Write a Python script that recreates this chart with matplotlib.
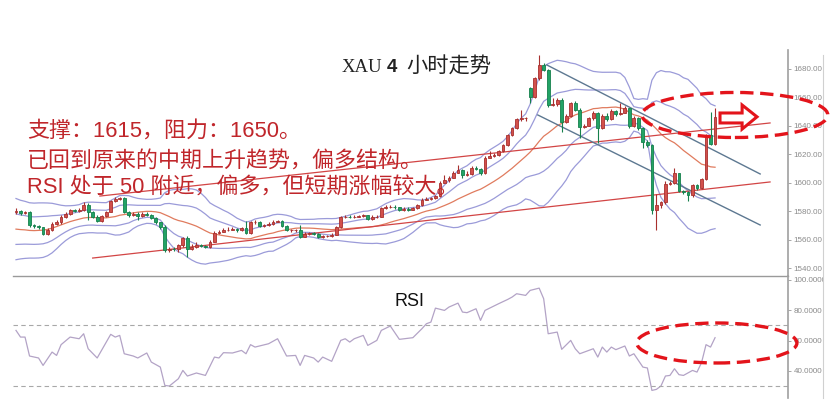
import numpy as np
import pandas as pd
import matplotlib
matplotlib.use("Agg")
import matplotlib.pyplot as plt
from matplotlib.patches import Ellipse, Polygon, Rectangle
from matplotlib.lines import Line2D

plt.rcParams['font.family'] = ['Liberation Sans', 'Noto Sans CJK SC', 'DejaVu Sans']

# ==========================================
# DATA (4h XAU bars)
# ==========================================
opens = [
    1579, 1580, 1578.5, 1579, 1570, 1569.5, 1568.5, 1564, 1567, 1571,
    1572.5, 1576, 1578, 1580.5, 1580, 1581, 1584.5, 1579, 1576, 1573,
    1576.5, 1579.5, 1587, 1588.5, 1589, 1579.5, 1577.5, 1578, 1576.5, 1578,
    1577.5, 1575, 1572, 1568.5, 1552.5, 1553.5, 1553, 1556, 1561, 1553.5,
    1555, 1556, 1555.5, 1555, 1558.5, 1564.5, 1565.5, 1567, 1567, 1567.5,
    1566.5, 1568, 1564.5, 1572, 1572.5, 1569.5, 1570, 1571, 1572.5, 1573,
    1569.5, 1566.5, 1566.5, 1566.5, 1562, 1564, 1564.5, 1564, 1561.5, 1562.5,
    1562.5, 1563.5, 1568.5, 1575.5, 1576, 1575.5, 1576, 1576.5, 1577, 1574.5,
    1576, 1576, 1582, 1583, 1583, 1582.5, 1580.5, 1581.5, 1581, 1582,
    1584, 1588, 1588.5, 1589, 1590.5, 1600, 1601.5, 1603.5, 1607, 1609,
    1605, 1606, 1610.5, 1609.5, 1606.5, 1617.5, 1618.5, 1619, 1622, 1626,
    1633, 1638, 1644.5, 1645, 1666, 1660, 1673, 1682.5, 1679, 1654.5,
    1655, 1658, 1642.5, 1647, 1655.5, 1651, 1639, 1640, 1645, 1649,
    1638, 1647, 1644.5, 1650.5, 1648, 1649, 1652, 1639.5, 1645.5, 1638.5,
    1628.5, 1626, 1581, 1584, 1586, 1599, 1599.5, 1606.5, 1594, 1593,
    1591, 1598, 1596, 1602.5, 1633, 1627,
]
closes = [
    1580, 1578.5, 1579, 1570, 1569.5, 1568.5, 1564, 1567, 1571, 1572.5,
    1576, 1578, 1580.5, 1580, 1581, 1584.5, 1579, 1576, 1573, 1576.5,
    1579.5, 1587, 1588.5, 1589, 1579.5, 1577.5, 1578, 1576.5, 1578, 1577.5,
    1575, 1572, 1568.5, 1552.5, 1553.5, 1553, 1556, 1561, 1553.5, 1555,
    1556, 1555.5, 1555, 1558.5, 1564.5, 1565.5, 1567, 1567, 1567.5, 1566.5,
    1568, 1564.5, 1572, 1572.5, 1569.5, 1570, 1571, 1572.5, 1573, 1569.5,
    1566.5, 1566.5, 1566.5, 1562, 1564, 1564.5, 1564, 1561.5, 1562.5, 1562.5,
    1563.5, 1568.5, 1575.5, 1576, 1575.5, 1576, 1576.5, 1577, 1574.5, 1576,
    1576, 1582, 1583, 1583, 1582.5, 1580.5, 1581.5, 1581, 1582, 1584,
    1588, 1588.5, 1589, 1590.5, 1600, 1601.5, 1603.5, 1607, 1609, 1605,
    1606, 1610.5, 1609.5, 1606.5, 1617.5, 1618.5, 1619, 1622, 1626, 1633,
    1638, 1644.5, 1645, 1645, 1660, 1673, 1682.5, 1679, 1654.5, 1655,
    1658, 1642.5, 1647, 1655.5, 1651, 1639, 1640, 1645, 1649, 1638,
    1647, 1644.5, 1650.5, 1648, 1649, 1652, 1639.5, 1645.5, 1638.5, 1628.5,
    1626, 1581, 1584, 1586, 1599, 1599.5, 1606.5, 1594, 1593, 1591,
    1598, 1596, 1602.5, 1633, 1627, 1646,
]
highs = [
    1582, 1580.5, 1580, 1580, 1571, 1570, 1569, 1568, 1572, 1574,
    1577, 1579, 1581.5, 1581.5, 1582, 1586, 1585.5, 1580, 1577, 1577,
    1580, 1588, 1589.5, 1590, 1590, 1580, 1579, 1579, 1579, 1579,
    1578, 1575.5, 1572.5, 1570, 1555, 1554.5, 1557, 1562, 1562.5, 1557,
    1558, 1557, 1556.5, 1559.5, 1566, 1567, 1568, 1568.5, 1568.5, 1568,
    1569, 1573, 1573, 1573.5, 1573, 1571, 1572, 1573.5, 1574, 1573.5,
    1570, 1567.5, 1567.5, 1570.5, 1565, 1565.5, 1565, 1564.5, 1563.5, 1563.5,
    1564.5, 1569.5, 1576.5, 1577, 1577, 1577, 1577.5, 1578, 1577.5, 1577,
    1577, 1583, 1584, 1584, 1584, 1583, 1582.5, 1582.5, 1583, 1585,
    1589, 1589.5, 1590, 1591.5, 1601, 1605.5, 1604.5, 1608, 1612, 1609.5,
    1608, 1611.5, 1611.5, 1610, 1618.5, 1622, 1621, 1623, 1627, 1634,
    1639, 1645.5, 1651, 1646, 1667, 1674, 1689.5, 1684, 1680, 1659,
    1659.5, 1659, 1648, 1656.5, 1657, 1652, 1641, 1646, 1650, 1649.5,
    1648, 1648.5, 1651.5, 1651, 1655.5, 1653.5, 1652.5, 1646.5, 1646, 1639,
    1629.5, 1627, 1592, 1587, 1601, 1601, 1610, 1607, 1595, 1594,
    1599, 1599, 1603.5, 1634, 1649.5, 1652,
]
lows = [
    1578, 1577.5, 1578, 1569, 1568, 1567.5, 1563, 1563, 1566, 1570,
    1571, 1575, 1577, 1579, 1579, 1580, 1574, 1575, 1572, 1572.5,
    1576, 1579, 1586, 1587.5, 1578.5, 1576, 1576.5, 1574, 1576, 1576.5,
    1574.5, 1571, 1567.5, 1551.5, 1551, 1552, 1551.5, 1555, 1547.5, 1552.5,
    1554, 1554.5, 1554, 1554, 1558, 1564, 1565, 1566, 1566.5, 1565.5,
    1566, 1564, 1564, 1571, 1569, 1569, 1569.5, 1570.5, 1572, 1569,
    1566, 1565.5, 1565.5, 1561, 1561.5, 1563.5, 1563, 1561, 1561, 1561.5,
    1562, 1563, 1568, 1575, 1575, 1575, 1575.5, 1576, 1574, 1574,
    1575, 1575.5, 1581.5, 1582, 1581.5, 1580, 1580, 1580, 1580.5, 1581.5,
    1583.5, 1587.5, 1588, 1588.5, 1590, 1599.5, 1600.5, 1603, 1606.5, 1603.5,
    1604.5, 1605.5, 1608.5, 1605.5, 1606, 1617, 1618, 1618.5, 1621.5, 1625.5,
    1632.5, 1637.5, 1643.5, 1643, 1656, 1659, 1672, 1678, 1653, 1653.5,
    1654, 1635.5, 1641.5, 1646, 1650, 1631.5, 1638, 1639.5, 1644, 1628,
    1637.5, 1643.5, 1644, 1647, 1647.5, 1648.5, 1638.5, 1639, 1637, 1624,
    1625, 1578, 1566.5, 1582, 1585, 1598, 1599, 1593, 1592, 1587,
    1590, 1595, 1595.5, 1602, 1626, 1626,
]
# closes of the bars just before the visible window (only their effect on the bands shows)
prior_closes = [1585, 1583, 1578, 1572, 1566, 1560, 1556, 1553, 1551, 1552,
                1555, 1558, 1562, 1565, 1568, 1572, 1575, 1577, 1578]

rsi_bars = [0, 1, 2, 3, 5, 6, 8, 9, 10, 12, 14, 15, 16, 18, 21, 22, 23, 24, 26, 27,
            29, 30, 32, 33, 34, 36, 37, 38, 40, 42, 44, 45, 46, 48, 50, 51, 52, 53, 56, 58,
            60, 62, 63, 64, 66, 67, 68, 70, 72, 73, 74, 75, 77, 78, 80, 81, 83, 85, 88, 90,
            91, 92, 93, 95, 96, 98, 99, 100, 102, 103, 104, 107, 109, 110, 111, 113, 114, 116, 117, 118,
            120, 121, 123, 124, 125, 128, 129, 130, 131, 132, 133, 135, 136, 137, 139, 140, 141, 142, 143, 144,
            145, 146, 147, 148, 150, 151, 152, 153, 154, 155]
rsi_vals = [66.7, 62.3, 62.3, 49.8, 48.5, 43.6, 52.4, 50.2, 57.3, 62.3, 61.2, 64.5, 54.6, 48.5, 64.1, 62.3, 63.4, 51.3, 49.8, 48.5,
            51.8, 45.8, 42.5, 30.4, 30.0, 34.8, 40.3, 36.6, 38.6, 37.0, 49.1, 48.5, 52.0, 51.8, 53.5, 51.3, 57.3, 55.7, 57.9, 61.2,
            49.8, 50.2, 43.6, 50.2, 48.5, 45.8, 49.1, 46.3, 60.1, 61.2, 59.0, 61.2, 63.4, 56.8, 60.1, 66.7, 69.6, 60.8, 61.9, 67.8,
            71.1, 72.2, 81.4, 79.9, 82.1, 84.7, 78.8, 78.4, 81.0, 73.3, 79.9, 84.3, 87.1, 88.7, 90.9, 89.8, 93.1, 94.6, 87.6, 64.5,
            65.6, 54.2, 60.1, 54.6, 51.3, 54.6, 49.1, 55.7, 52.4, 55.7, 54.0, 56.4, 49.8, 51.3, 42.5, 41.9, 27.1, 27.8, 30.0, 36.6,
            37.0, 41.4, 37.5, 37.0, 40.3, 39.2, 45.4, 57.3, 55.7, 61.9]
rsi_levels = [30, 70]

price_ticks = [1540, 1560, 1580, 1600, 1620, 1640, 1660, 1680]
rsi_ticks = [40, 60, 80, 100]

# hand-drawn lines, (bar, price) end points
support_line = [(17.0, 1547.0), (167.2, 1600.4)]
rising_line = [(18.6, 1590.5), (167.2, 1641.8)]
channel_top = [(117.7, 1682.5), (165.0, 1606.0)]
channel_bottom = [(115.7, 1647.4), (165.0, 1570.2)]

title_parts = ["XAU", "4", "小时走势"]
notes = ["支撑：1615，阻力：1650。",
         "已回到原来的中期上升趋势，偏多结构。",
         "RSI 处于 50 附近，偏多，但短期涨幅较大。"]

# ==========================================
# STYLE
# ==========================================
W, H = 832, 413
UP, DOWN = "#d2504c", "#22a366"
UP_EDGE, DOWN_EDGE = "#a8302e", "#16804c"
BAND = "#9b9bd9"
MID = "#e07b5e"
TREND = "#d24545"
CHANNEL = "#5d7891"
NOTE_RED = "#c0262b"
ELL_RED = "#e3141b"


def fx(px):
    return px / W


def fy(py):
    return 1 - py / H


fig = plt.figure(figsize=(W / 100, H / 100), dpi=100)
ax = fig.add_axes([fx(13), fy(276), fx(775), 226 / H])
ax2 = fig.add_axes([fx(13), fy(398), fx(775), 122 / H])

n = len(closes)
bars = np.arange(n)
o = np.array(opens)
c = np.array(closes)
hi = np.array(highs)
lo = np.array(lows)

# Bollinger bands (20, 1 and 2 sigma)
full = pd.Series(prior_closes + closes)
mid = full.rolling(20).mean().to_numpy()[len(prior_closes):]
sd = full.rolling(20).std(ddof=0).to_numpy()[len(prior_closes):]
for k in (2, 1, -1, -2):
    ax.plot(bars, mid + k * sd, color=BAND, lw=0.9, zorder=2)
ax.plot(bars, mid, color=MID, lw=0.9, zorder=2)

for line, col, lw in ((support_line, TREND, 0.9), (rising_line, TREND, 0.9),
                      (channel_top, CHANNEL, 1.0), (channel_bottom, CHANNEL, 1.0)):
    xs, ys = zip(*line)
    ax.plot(xs, ys, color=col, lw=lw, zorder=2, clip_on=False)

# candles
up = c >= o
face = np.where(up, UP, DOWN)
edge = np.where(up, UP_EDGE, DOWN_EDGE)
ax.vlines(bars, lo, hi, colors=edge, lw=0.8, zorder=3)
ax.bar(bars, c - o, bottom=o, width=0.62, color=face, edgecolor=edge, linewidth=0.6, zorder=4)

ax.set_xlim((13 - 16) / 4.51, (788 - 16) / 4.51)
ax.set_ylim(1534.4, 1693.0)
ax.set_yticks(price_ticks)
ax.yaxis.set_major_formatter(plt.FormatStrFormatter("%.2f"))

# RSI panel
ax2.plot(rsi_bars, rsi_vals, color="#b3a3c6", lw=0.9)
for lv in rsi_levels:
    ax2.axhline(lv, color="#a8a8a8", lw=0.8, ls=(0, (4, 3)))
ax2.set_xlim(ax.get_xlim())
ax2.set_ylim(22.1, 102.6)
ax2.set_yticks(rsi_ticks)
ax2.yaxis.set_major_formatter(plt.FormatStrFormatter("%.4f"))

for a in (ax, ax2):
    a.yaxis.tick_right()
    a.set_xticks([])
    a.tick_params(axis="y", length=2.5, width=0.6, color="#999999", labelcolor="#8a8a8a",
                  labelsize=5.8, pad=1.5)
    for s in ("top", "left"):
        a.spines[s].set_visible(False)
    a.spines["right"].set_color("#a0a0a0")
    a.spines["right"].set_linewidth(1.2)
    a.patch.set_alpha(0)
ax.spines["bottom"].set_color("#9a9a9a")
ax.spines["bottom"].set_linewidth(1.0)
ax2.spines["bottom"].set_visible(False)

# right border cutting the tick labels
fig.add_artist(Rectangle((fx(823.5), 0), fx(9), 1, transform=fig.transFigure,
                         facecolor="white", edgecolor="none", zorder=3))
fig.add_artist(Line2D([fx(823), fx(823)], [fy(398), fy(55)], color="#d0d0d0", lw=0.8, zorder=3))

# texts
fig.text(fx(342), fy(67), title_parts[0], ha="left", va="center", fontsize=13.5,
         color="#222222", family="Liberation Serif")
fig.text(fx(387), fy(67), title_parts[1], ha="left", va="center", fontsize=13.5,
         color="#222222", fontweight="bold")
fig.text(fx(406), fy(67), title_parts[2], ha="left", va="center", fontsize=15.3,
         color="#222222", family="Noto Sans CJK SC")
for row, txt in zip((131, 161, 188), notes):
    fig.text(fx(27), fy(row), txt, ha="left", va="center", fontsize=15.8, color=NOTE_RED)
fig.text(fx(395), fy(302), "RSI", ha="left", va="center", fontsize=13, color="#111111")

# dashed ellipses and the arrow
fig.add_artist(Ellipse((159.4, 1647.4), 41.2, 31.6, transform=ax.transData, fill=False,
                       edgecolor=ELL_RED, lw=2.4, ls=(0, (4, 2)), zorder=6))
fig.add_artist(Ellipse((155.4, 58.4), 35.5, 26.4, transform=ax2.transData, fill=False,
                       edgecolor=ELL_RED, lw=2.4, ls=(0, (4, 2)), zorder=6))
arrow = [(156.1, 1648.8), (161.0, 1648.8), (161.0, 1654.4), (164.3, 1646.1),
         (161.0, 1637.5), (161.0, 1641.8), (156.1, 1641.8)]
fig.add_artist(Polygon(arrow, closed=True, transform=ax.transData, facecolor="white",
                       edgecolor=ELL_RED, lw=2.2, zorder=6))

fig.savefig("out.png", dpi=100, facecolor="white")
